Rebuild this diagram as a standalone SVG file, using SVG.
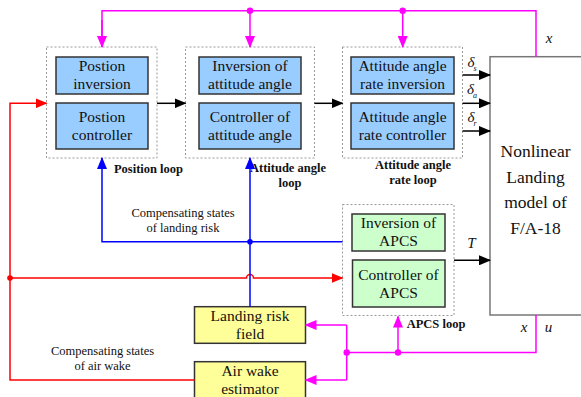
<svg xmlns="http://www.w3.org/2000/svg" width="581" height="397" viewBox="0 0 581 397">
<style>
text{font-family:'Liberation Serif','Times New Roman','DejaVu Serif',Times,serif}
.dash{fill:none;stroke:#999;stroke-width:1;stroke-dasharray:2,2}
.bb{fill:#99ccff;stroke:#333;stroke-width:1.5}
.gb{fill:#ccffcc;stroke:#333;stroke-width:1.5}
.yb{fill:#ffff99;stroke:#333;stroke-width:1.5}
.t{font-size:15.5px;fill:#111;text-anchor:middle}
.big{font-size:17.5px;fill:#111;text-anchor:middle}
.lb{font-size:12.5px;font-weight:bold;fill:#111;text-anchor:middle}
.cs{font-size:12.5px;fill:#111;text-anchor:middle}
.it{font-size:15px;font-style:italic;fill:#111;text-anchor:middle}
.k{fill:none;stroke:#000;stroke-width:1.5}
.m{fill:none;stroke:#ff00ff;stroke-width:1.5}
.r{fill:none;stroke:#ff0000;stroke-width:1.5}
.b{fill:none;stroke:#0000ff;stroke-width:1.5}
</style>
<defs>
<marker id="ak" markerWidth="12" markerHeight="10" refX="11" refY="5" orient="auto" markerUnits="userSpaceOnUse"><path d="M0,0 L12,5 L0,10 Z" fill="#000"/></marker>
<marker id="am" markerWidth="12" markerHeight="10" refX="11" refY="5" orient="auto" markerUnits="userSpaceOnUse"><path d="M0,0 L12,5 L0,10 Z" fill="#ff00ff"/></marker>
<marker id="ar" markerWidth="12" markerHeight="10" refX="11" refY="5" orient="auto" markerUnits="userSpaceOnUse"><path d="M0,0 L12,5 L0,10 Z" fill="#ff0000"/></marker>
<marker id="ab" markerWidth="12" markerHeight="10" refX="11" refY="5" orient="auto" markerUnits="userSpaceOnUse"><path d="M0,0 L12,5 L0,10 Z" fill="#0000ff"/></marker>
</defs>

<g id="position-loop">
<rect class="dash" x="46.5" y="47" width="110.5" height="111"/>
<rect class="bb" x="56" y="57" width="92" height="37"/>
<text class="t" x="102" y="71">Postion</text>
<text class="t" x="102" y="89">inversion</text>
<rect class="bb" x="56" y="103" width="92" height="46"/>
<text class="t" x="102" y="122">Postion</text>
<text class="t" x="102" y="140">controller</text>
<text class="lb" x="148.5" y="173">Position loop</text>
</g>

<g id="attitude-loop">
<rect class="dash" x="185.5" y="47" width="129" height="111"/>
<rect class="bb" x="199" y="57" width="102" height="37"/>
<text class="t" x="250" y="71">Inversion of</text>
<text class="t" x="250" y="89">attitude angle</text>
<rect class="bb" x="199" y="103" width="102" height="46"/>
<text class="t" x="250" y="122">Controller of</text>
<text class="t" x="250" y="140">attitude angle</text>
<text class="lb" x="288" y="172">Attitude angle</text>
<text class="lb" x="290" y="187">loop</text>
</g>

<g id="rate-loop">
<rect class="dash" x="342.5" y="47" width="120" height="111"/>
<rect class="bb" x="351" y="57" width="103" height="37"/>
<text class="t" x="402.5" y="71">Attitude angle</text>
<text class="t" x="402.5" y="89">rate inversion</text>
<rect class="bb" x="351" y="103" width="103" height="46"/>
<text class="t" x="402.5" y="122">Attitude angle</text>
<text class="t" x="402.5" y="140">rate controller</text>
<text class="lb" x="413" y="168.5">Attitude angle</text>
<text class="lb" x="413" y="183.5">rate loop</text>
</g>

<g id="apcs-loop">
<rect class="dash" x="342.5" y="204.5" width="111.5" height="111"/>
<rect class="gb" x="352" y="214" width="93" height="37"/>
<text class="t" x="398.5" y="228">Inversion of</text>
<text class="t" x="398.5" y="246">APCS</text>
<rect class="gb" x="352.5" y="260" width="92.5" height="47"/>
<text class="t" x="398.5" y="280">Controller of</text>
<text class="t" x="398.5" y="298">APCS</text>
<text class="lb" x="436" y="328">APCS loop</text>
</g>

<g id="nonlinear-model">
<rect x="490" y="56.7" width="100" height="258.3" fill="#fff" stroke="#777" stroke-width="1.5"/>
<text class="big" x="535.5" y="157">Nonlinear</text>
<text class="big" x="535.5" y="182.5">Landing</text>
<text class="big" x="535.5" y="208">model of</text>
<text class="big" x="535.5" y="233.5">F/A-18</text>
</g>

<g id="landing-risk-field">
<rect class="yb" x="194.5" y="306.7" width="111" height="36.6"/>
<text class="t" x="250" y="321">Landing risk</text>
<text class="t" x="250" y="339">field</text>
</g>

<g id="air-wake-estimator">
<rect class="yb" x="194.5" y="361.7" width="111" height="40"/>
<text class="t" x="250" y="376">Air wake</text>
<text class="t" x="250" y="394">estimator</text>
</g>

<g id="connectors">
<line class="k" x1="157" y1="103.3" x2="185.5" y2="103.3" marker-end="url(#ak)"/>
<line class="k" x1="314.5" y1="103.3" x2="342.5" y2="103.3" marker-end="url(#ak)"/>
<line class="k" x1="462.5" y1="75" x2="490" y2="75" marker-end="url(#ak)"/>
<line class="k" x1="462.5" y1="103.3" x2="490" y2="103.3" marker-end="url(#ak)"/>
<line class="k" x1="462.5" y1="131" x2="490" y2="131" marker-end="url(#ak)"/>
<line class="k" x1="454" y1="260.3" x2="490" y2="260.3" marker-end="url(#ak)"/>
<path class="m" d="M102,47 V10.7 H536 V56.7"/>
<line class="m" x1="102" y1="20" x2="102" y2="47" marker-end="url(#am)"/>
<line class="m" x1="250" y1="10.7" x2="250" y2="47" marker-end="url(#am)"/>
<line class="m" x1="402.7" y1="10.7" x2="402.7" y2="47" marker-end="url(#am)"/>
<circle cx="250" cy="10.7" r="3.2" fill="#ff00ff"/>
<circle cx="402.7" cy="10.7" r="3.2" fill="#ff00ff"/>
<path class="m" d="M536,315 V352.5 H346.7"/>
<path class="m" d="M346.7,325 V380"/>
<line class="m" x1="346.7" y1="325" x2="305.5" y2="325" marker-end="url(#am)"/>
<line class="m" x1="346.7" y1="380" x2="305.5" y2="380" marker-end="url(#am)"/>
<line class="m" x1="398" y1="352.5" x2="398" y2="316.5" marker-end="url(#am)"/>
<circle cx="398" cy="352.5" r="3.2" fill="#ff00ff"/>
<circle cx="346.7" cy="352.5" r="3.2" fill="#ff00ff"/>
<path class="r" d="M194.5,380 H10 V103.3 H46.5" marker-end="url(#ar)"/>
<path class="r" d="M10,278 H246.5 A3.5,3.5 0 0 1 253.5,278 H342.5" marker-end="url(#ar)"/>
<circle cx="10" cy="278" r="2.8" fill="#ff0000"/>
<path class="b" d="M342.5,241.7 H102 V158" marker-end="url(#ab)"/>
<line class="b" x1="250" y1="306.7" x2="250" y2="158" marker-end="url(#ab)"/>
<circle cx="250" cy="241.7" r="2.8" fill="#0000ff"/>
</g>

<g id="labels">
<text class="it" x="549" y="43">x</text>
<text class="it" x="524" y="332">x</text>
<text class="it" x="548.5" y="332">u</text>
<text class="it" x="471.5" y="248">T</text>
<text class="it" x="472" y="67" font-size="17">δ<tspan font-size="8" dx="-1" dy="4">s</tspan></text>
<text class="it" x="472" y="94" font-size="17">δ<tspan font-size="8" dx="-1" dy="4">a</tspan></text>
<text class="it" x="472" y="122" font-size="17">δ<tspan font-size="8" dx="-1" dy="4">r</tspan></text>
<text class="cs" x="183" y="217">Compensating states</text>
<text class="cs" x="183" y="232">of landing risk</text>
<text class="cs" x="102.5" y="355">Compensating states</text>
<text class="cs" x="102.5" y="370">of air wake</text>
</g>
</svg>
